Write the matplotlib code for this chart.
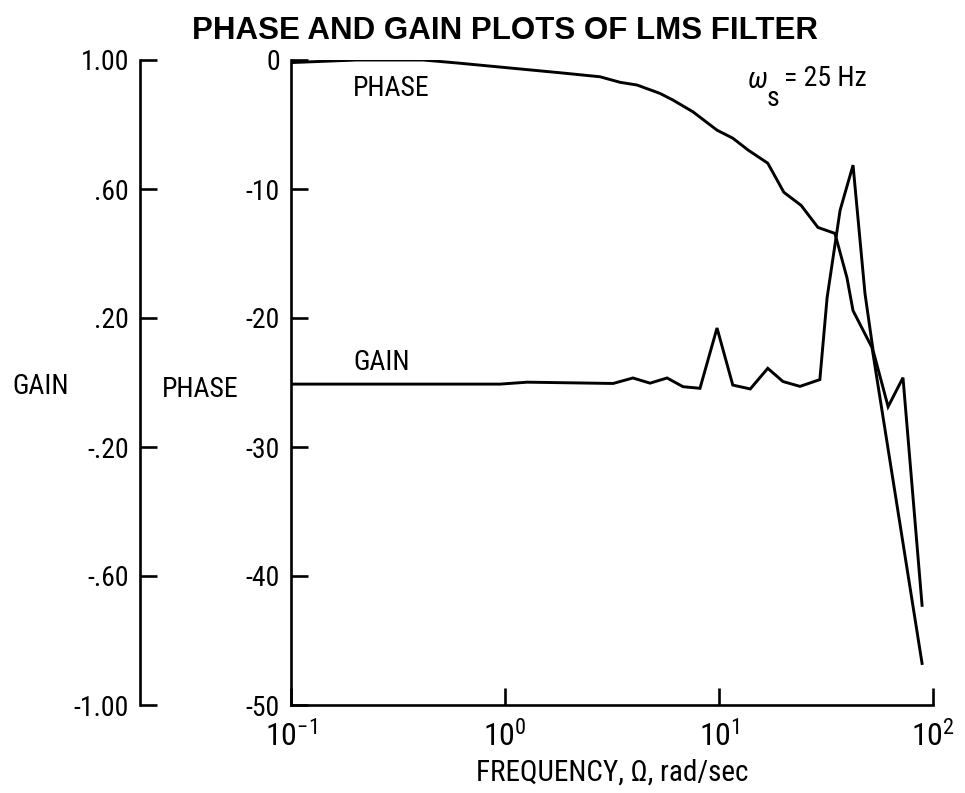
import numpy as np
import matplotlib
matplotlib.use("Agg")
import matplotlib.pyplot as plt
from matplotlib import font_manager as fm

# phase curve, degrees vs rad/sec
phase_freq = [0.1, 0.203, 0.414, 0.597, 1.81, 2.78, 3.45, 4.14, 5.30, 6.10, 7.56,
              9.79, 11.6, 13.7, 16.9, 20.1, 24.2, 29.0, 34.8, 39.6, 42.3, 51.9, 88.9]
phase_val = [-0.2, 0.0, 0.0, -0.23, -0.99, -1.30, -1.73, -1.94, -2.59, -3.11, -4.02,
             -5.44, -6.06, -6.99, -8.00, -10.26, -11.27, -12.98, -13.44, -16.86, -19.43, -22.30, -46.78]

# gain curve
gain_freq = [0.1, 0.5, 0.949, 1.27, 3.20, 3.96, 4.76, 5.72, 6.79, 8.15, 9.79, 11.6, 14.0,
             16.9, 19.9, 23.9, 29.6, 32.0, 36.8, 42.3, 48.1, 52.5, 61.7, 72.4, 88.9]
gain_val = [-0.005, -0.005, -0.005, 0.001, -0.003, 0.014, -0.002, 0.014, -0.013, -0.018, 0.169,
            -0.008, -0.020, 0.044, 0.003, -0.012, 0.009, 0.263, 0.534, 0.674, 0.276, 0.099,
            -0.075, 0.015, -0.691]

phase_ticks = [0, -10, -20, -30, -40, -50]
phase_labels = ["0", "-10", "-20", "-30", "-40", "-50"]
gain_ticks = [1.0, 0.6, 0.2, -0.2, -0.6, -1.0]
gain_labels = ["1.00", ".60", ".20", "-.20", "-.60", "-1.00"]
freq_ticks = [0.1, 1, 10, 100]
freq_labels = [r"$10^{-1}$", r"$10^{0}$", r"$10^{1}$", r"$10^{2}$"]

# look for a narrow sans face, the original lettering is condensed
family, stretch = "Liberation Sans", "normal"
found = []
for f in fm.fontManager.ttflist:
    if f.style != "normal" or f.weight not in (400, "normal", "regular"):
        continue
    if f.stretch in ("condensed", "semi-condensed") or "Narrow" in f.name or "Condensed" in f.name:
        found.append((f.name, f.stretch))
for want in ["Liberation Sans Narrow", "Roboto Condensed", "DejaVu Sans Condensed", "DejaVu Sans",
             "Noto Sans", "Open Sans Condensed", "Open Sans"]:
    hit = [c for c in found if c[0] == want]
    if hit:
        family, stretch = hit[0]
        break

plt.rcParams["font.family"] = [family, "DejaVu Sans"]
plt.rcParams["font.stretch"] = stretch
plt.rcParams["mathtext.fontset"] = "custom"
plt.rcParams["mathtext.rm"] = family
plt.rcParams["mathtext.it"] = family + ":italic"

W, H = 965, 793
fig = plt.figure(figsize=(W / 100, H / 100), dpi=100)

# pick the size so that "PHASE" is roughly as wide as in the original
probe = fig.text(0, 0, "PHASE", fontsize=20)
pw = probe.get_window_extent(fig.canvas.get_renderer()).width
probe.remove()
FS = min(20.0, 20.0 * 80 / pw)


def fx(px):
    return px / W


def fy(py):
    return 1 - py / H


left, right, top, bottom = 291, 933, 60, 705
ax = fig.add_axes([fx(left), fy(bottom), (right - left) / W, (bottom - top) / H])
ax.set_xscale("log")
ax.set_xlim(0.1, 100)
ax.set_ylim(-50, 0)
for s in ["top", "right"]:
    ax.spines[s].set_visible(False)
for s in ["left", "bottom"]:
    ax.spines[s].set_linewidth(1.9)
ax.plot(phase_freq, phase_val, color="black", lw=2.1, solid_joinstyle="miter")

ax.set_yticks(phase_ticks)
ax.set_yticklabels(phase_labels)
ax.set_xticks(freq_ticks)
ax.set_xticklabels(freq_labels)
ax.xaxis.set_minor_locator(matplotlib.ticker.NullLocator())
ax.tick_params(axis="both", direction="in", length=12, width=1.9, labelsize=FS)
ax.tick_params(axis="y", pad=8)
ax.tick_params(axis="x", pad=11, labelsize=FS * 1.15)
ax.set_xlabel("FREQUENCY, \u03a9, rad/sec", fontsize=FS * 1.05, labelpad=4)

# gain scale on its own spine further left
ax2 = ax.twinx()
ax2.set_ylim(-1, 1)
ax2.patch.set_visible(False)
for s in ["top", "right", "bottom"]:
    ax2.spines[s].set_visible(False)
ax2.spines["left"].set_visible(True)
ax2.spines["left"].set_position(("axes", (140 - left) / (right - left)))
ax2.spines["left"].set_linewidth(1.9)
ax2.yaxis.set_ticks_position("left")
ax2.set_yticks(gain_ticks)
ax2.set_yticklabels(gain_labels)
ax2.tick_params(axis="y", direction="in", length=12, width=1.9, labelsize=FS, pad=8)
ax2.plot(gain_freq, gain_val, color="black", lw=2.1, solid_joinstyle="miter")

fig.text(fx(505), fy(31), "PHASE AND GAIN PLOTS OF LMS FILTER", ha="center", va="center",
         fontsize=22.5, fontweight="bold", family=["Liberation Sans", "DejaVu Sans"], stretch="normal")
fig.text(fx(12), fy(387), "GAIN", ha="left", va="center", fontsize=FS)
fig.text(fx(162), fy(389), "PHASE", ha="left", va="center", fontsize=FS)
fig.text(fx(353), fy(89), "PHASE", ha="left", va="center", fontsize=FS)
fig.text(fx(353), fy(362), "GAIN", ha="left", va="center", fontsize=FS)
fig.text(fx(748), fy(80), "\u03c9", ha="left", va="center", fontsize=FS * 1.05, style="italic")
fig.text(fx(767), fy(98), "s", ha="left", va="center", fontsize=FS)
fig.text(fx(784), fy(78), "= 25 Hz", ha="left", va="center", fontsize=FS)

fig.savefig("out.png", dpi=100)
